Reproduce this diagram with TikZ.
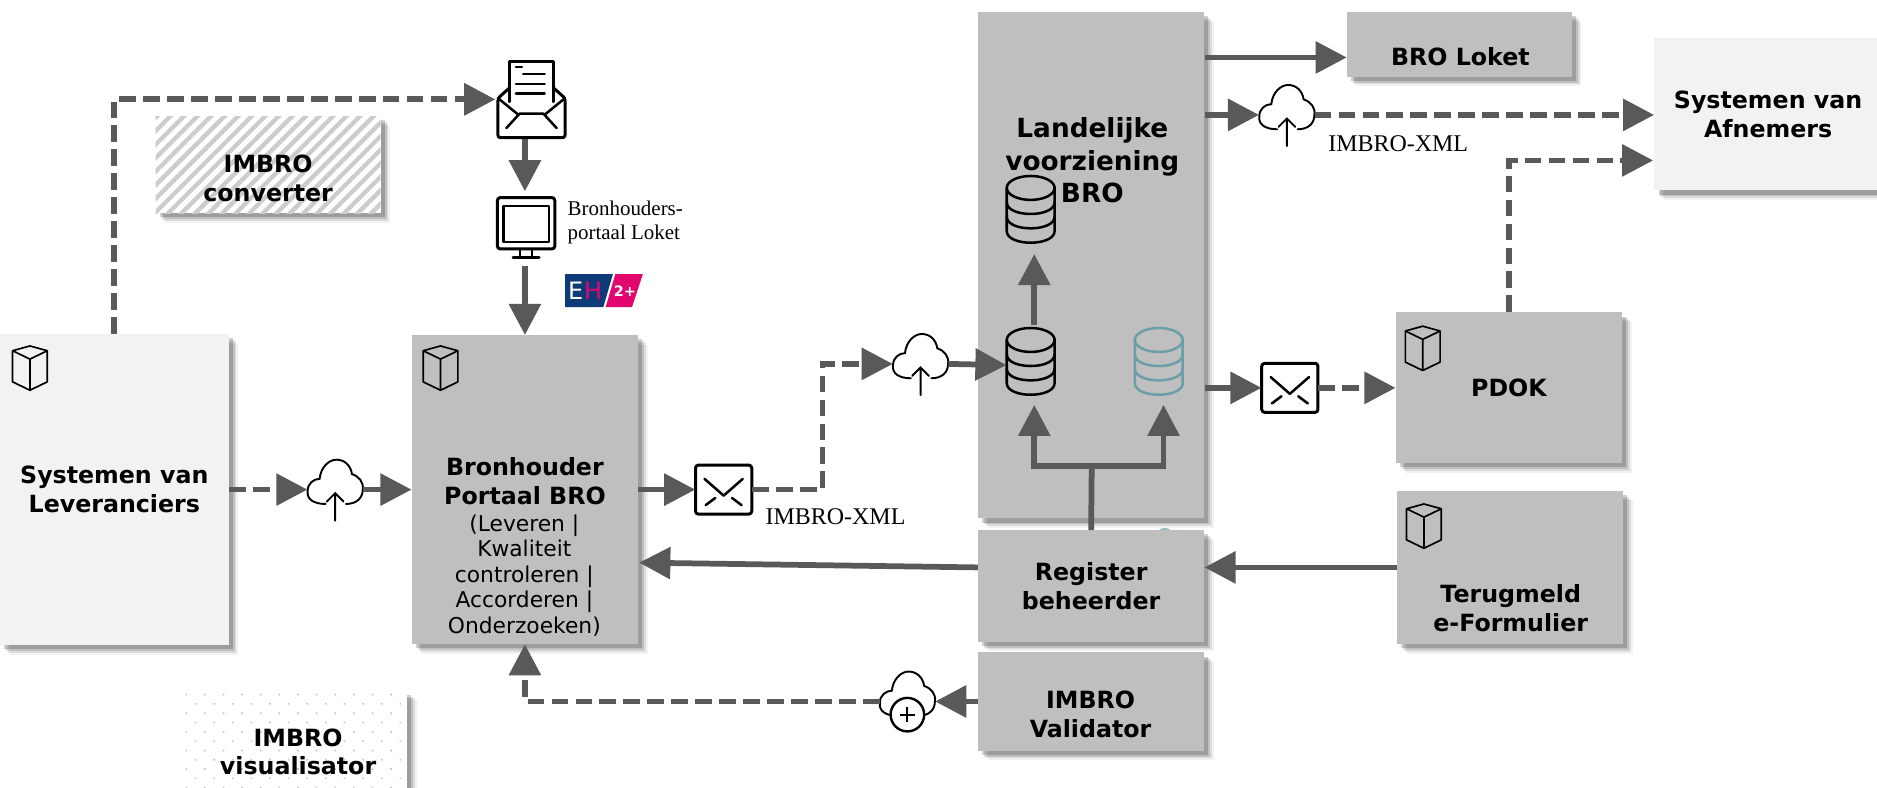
\documentclass[tikz,border=0pt]{standalone}
\usepackage{fontspec}
\setmainfont{Liberation Serif}
\setsansfont{DejaVu Sans}
\usetikzlibrary{arrows.meta}
\usetikzlibrary{patterns.meta}
\usetikzlibrary{shadows}
\definecolor{boxgrey}{HTML}{BFBFBF}
\definecolor{boxlight}{HTML}{F2F2F2}
\definecolor{flowgrey}{HTML}{595959}
\definecolor{dbteal}{HTML}{6A9EA8}
\definecolor{ehnavy}{HTML}{0F3A78}
\definecolor{ehpink}{HTML}{E2066F}
\tikzset{
	softshadow/.style={drop shadow={shadow xshift=8pt,shadow yshift=-8pt,fill=black,opacity=.05},
		drop shadow={shadow xshift=6.5pt,shadow yshift=-6.5pt,fill=black,opacity=.09},
		drop shadow={shadow xshift=5pt,shadow yshift=-5pt,fill=black,opacity=.13},
		drop shadow={shadow xshift=3.5pt,shadow yshift=-3.5pt,fill=black,opacity=.18}},
	box/.style={rectangle,inner sep=0pt,softshadow,fill=boxgrey,align=center,font=\sffamily\bfseries\fontsize{19.8}{24}\selectfont},
	lightbox/.style={box,fill=boxlight},
	boxtext/.style={inner sep=0pt,align=center,font=\sffamily\bfseries\fontsize{19.8}{24}\selectfont},
	plaintext/.style={inner sep=0pt,align=left,font=\fontsize{17.5}{20}\selectfont},
	xmltext/.style={inner sep=0pt,font=\fontsize{20}{22}\selectfont},
	iconnode/.style={rectangle,inner sep=0pt,minimum width=46pt,minimum height=46pt},
	flow/.style={draw=flowgrey,line width=4.8pt,-{Triangle[length=26pt,width=26pt]}},
	dashflow/.style={flow,dash pattern=on 14pt off 6pt},
	flowline/.style={draw=flowgrey,line width=4.8pt},
	icon/.style={line width=2.1pt,line join=round,line cap=round},
	pics/cubeicon/.style={code={
		\draw[line width=1.4pt,line join=round] (0,-18.5) -- (14.5,-14.5) -- (14.5,11.5) -- (0,18.5) -- (-14.5,11.5) -- (-14.5,-14.5) -- cycle;
		\draw[line width=1.4pt,line join=round] (-14.5,-14.5) -- (0,-7.5) -- (14.5,-14.5) (0,-7.5) -- (0,18.5);
	}},
	pics/cloudshape/.style={code={
		\draw[line width=1.6pt,line cap=round] (-8,12) .. controls (-18,12) and (-24,8) .. (-23,1)
			.. controls (-23,-5) and (-18,-9) .. (-13,-9) .. controls (-12,-19) and (-5,-25) .. (1,-25)
			.. controls (8,-25) and (13,-20) .. (14,-13) .. controls (20,-11) and (24,-6) .. (23,0)
			.. controls (23,7) and (18,12) .. (9,12);
	}},
	pics/cloudup/.style={code={
		\pic {cloudshape};
		\draw[line width=1.6pt,line cap=round] (0,26) -- (0,3) (-7,10) -- (0,3) -- (7,10);
	}},
	pics/cloudplus/.style={code={
		\pic {cloudshape};
		\draw[line width=2pt,fill=white] (0,11) circle [radius=14pt];
		\draw[line width=1.6pt] (-6,11) -- (6,11) (0,5) -- (0,17);
	}},
	pics/mailicon/.style={code={
		\draw[icon,line width=2.5pt,fill=white,rounded corners=2.5pt] (-23.5,-20.5) rectangle (23.5,20.5);
		\draw[icon] (-16,-9) -- (0,5) -- (16,-9) (-15,13) -- (-7,7) (15,13) -- (7,7);
	}},
	pics/docmail/.style={code={
		\draw[icon,line width=2.5pt,rounded corners=2pt] (-19,-9) -- (-28,-1) -- (-28,32) -- (28,32) -- (28,-1) -- (19,-9);
		\draw[icon,line width=2.5pt] (-18,2) -- (-18,-32) -- (18,-32) -- (18,2);
		\draw[icon] (-28,-1) -- (-12,12) (28,-1) -- (12,12) (-21,24) -- (-10,12) -- (10,12) -- (21,24);
		\draw[icon] (-13,-27) -- (-8,-27) (-7,-21) -- (11,-21) (-13,-13) -- (11,-13) (-13,-5) -- (11,-5);
	}},
	pics/monitoricon/.style={code={
		\draw[icon,line width=2.5pt,rounded corners=2.5pt] (-23,-26) rectangle (25,17);
		\draw[icon] (-18,-19) rectangle (20,11);
		\draw[icon] (-4,17) -- (-4,23) (6,17) -- (6,23) (-10,24) -- (12,24);
	}},
	pics/dbicon/.style={code={
		\draw[icon,#1] (0,-18) ellipse [x radius=20pt,y radius=10pt];
		\draw[icon,#1] (-20,-18) -- (-20,18) .. controls (-20,31) and (20,31) .. (20,18) -- (20,-18);
		\draw[icon,#1] (-20,-6) .. controls (-20,7) and (20,7) .. (20,-6);
		\draw[icon,#1] (-20,6) .. controls (-20,19) and (20,19) .. (20,6);
	}}
}
\begin{document}
\begin{tikzpicture}[x=1pt,y=-1pt]
	\useasboundingbox (0,0) rectangle (1568,658);

	% teal rim behind the register box
	\fill[dbteal!70] (973,449) ellipse [x radius=8pt,y radius=8pt];

	% boxes
	\node[lightbox,minimum width=191pt,minimum height=260pt] (leveranciers) at (95.5,409) {Systemen van\\Leveranciers};
	\node[box,minimum width=189pt,minimum height=258pt] (bronhouder) at (438.5,409) {};
	\node[box,minimum width=189pt,minimum height=423pt] (landelijk) at (911.5,221.5) {};
	\node[box,minimum width=188pt,minimum height=54pt] (broLoket) at (1219,37) {};
	\node[lightbox,minimum width=190pt,minimum height=127pt] (afnemers) at (1477,95.5) {Systemen van\\Afnemers};
	\node[box,minimum width=189pt,minimum height=126pt] (pdok) at (1260.5,324) {PDOK};
	\node[box,minimum width=189pt,minimum height=128pt] (terugmeld) at (1261.5,474) {};
	\node[box,minimum width=189pt,minimum height=93pt] (register) at (911.5,489.5) {Register\\beheerder};
	\node[box,minimum width=189pt,minimum height=82pt] (validator) at (911.5,586) {};
	\node[box,fill=white,minimum width=188pt,minimum height=81pt,postaction={pattern={Lines[angle=45,distance=8pt,line width=3.6pt]},pattern color=black!20}] (converter) at (224,137.5) {};
	\node[box,fill=white,minimum width=185pt,minimum height=100pt,postaction={pattern={Dots[angle=45,distance=11pt,radius=1pt]},pattern color=black!22}] (visualisator) at (247.5,627) {};

	% box texts that sit off centre
	\node[boxtext] (bronhouderTxt) at (438.5,402) {Bronhouder\\Portaal BRO};
	\node[boxtext,font=\sffamily\fontsize{18.2}{21.3}\selectfont] (bronhouderSub) at (438,480.5) {(Leveren |\\Kwaliteit\\controleren |\\Accorderen |\\Onderzoeken)};
	\node[boxtext,font=\sffamily\bfseries\fontsize{22}{27}\selectfont] (landelijkTxt) at (912.5,134) {Landelijke\\voorziening\\BRO};
	\node[boxtext] (broLoketTxt) at (1220,47) {BRO Loket};
	\node[boxtext] (terugmeldTxt) at (1262,508) {Terugmeld\\e-Formulier};
	\node[boxtext] (validatorTxt) at (911,597) {IMBRO\\Validator};
	\node[boxtext] (converterTxt) at (224,149) {IMBRO\\converter};
	\node[boxtext] (visualisatorTxt) at (249,628) {IMBRO\\visualisator};

	% cube icons
	\foreach \x/\y in {25/307.5,368/307.5,1188.5/291,1189.5/439.5}
		{\pic at (\x,\y) {cubeicon};}

	% icon nodes
	\node[iconnode,minimum width=60pt,minimum height=66pt] (docMail) at (444,83) {};
	\node[iconnode,minimum width=48pt,minimum height=62pt] (monitor) at (438.5,191) {};
	\node[iconnode,minimum height=48pt] (cloudLev) at (280,409) {};
	\node[iconnode,minimum width=47pt] (mailBron) at (604.5,409) {};
	\node[iconnode] (cloudBro) at (769,304) {};
	\node[iconnode,minimum height=68pt] (dbTop) at (864,178) {};
	\node[iconnode,minimum height=66pt] (dbLow) at (864,305) {};
	\node[iconnode,minimum height=66pt] (dbTeal) at (972,305) {};
	\node[iconnode] (cloudAfn) at (1075,96) {};
	\node[iconnode,minimum width=47pt] (mailPdok) at (1077.5,324) {};
	\node[iconnode] (cloudPlus) at (758,586) {};

	\pic at (docMail) {docmail};
	\pic at (monitor) {monitoricon};
	\pic at (cloudLev) {cloudup};
	\pic at (mailBron) {mailicon};
	\pic at (cloudBro) {cloudup};
	\pic at (861,175) {dbicon=black};
	\pic at (861,302) {dbicon=black};
	\pic at (968,302) {dbicon=dbteal};
	\pic at (cloudAfn) {cloudup};
	\pic at (mailPdok) {mailicon};
	\pic at (cloudPlus) {cloudplus};

	% free ends and bends
	\coordinate (lokIn) at (1125,48);
	\coordinate (afnIn) at (1381,134);
	\coordinate (bendBro) at (687,409);
	\coordinate (branch) at (912,389);
	\coordinate (bronIn) at (534,470);

	% connectors
	\draw[dashflow] (leveranciers.north) |- (docMail.west);
	\draw[flow] (docMail.south -| monitor.north) -- (monitor.north);
	\draw[flow] (monitor.south) -- (bronhouder.north);
	\draw[dashflow] (leveranciers.east) -- (cloudLev.west);
	\draw[flow] (cloudLev.east) -- (bronhouder.west);
	\draw[flow] (bronhouder.east) -- (mailBron.west);
	\draw[dashflow] (mailBron.east) -- (bendBro) |- (cloudBro.west);
	\draw[flow] (cloudBro.east) -- (dbLow.west);
	\draw[flow] (dbLow.north) -- (dbTop.south);
	\draw[flowline] (register.north) -- (branch);
	\draw[flow] (branch) -| (dbLow.south);
	\draw[flow] (branch) -| (dbTeal.south);
	\draw[flow] (lokIn -| landelijk.east) -- (lokIn);
	\draw[flow] (cloudAfn.west -| landelijk.east) -- (cloudAfn.west);
	\draw[dashflow] (cloudAfn.east) -- (cloudAfn.east -| afnemers.west);
	\draw[flow] (mailPdok.west -| landelijk.east) -- (mailPdok.west);
	\draw[dashflow] (mailPdok.east) -- (pdok.west);
	\draw[dashflow] (pdok.north) |- (afnIn);
	\draw[flow] (terugmeld.west) -- (terugmeld.west -| register.east);
	\draw[flow] (terugmeld.west -| register.west) -- (bronIn);
	\draw[flow] (validator.west) -- (cloudPlus.east);
	\draw[dashflow] (cloudPlus.west) -| (bronhouder.south);

	% labels
	\node[xmltext] (xmlBron) at (698,432) {IMBRO-XML};
	\node[xmltext] (xmlAfn) at (1168,120) {IMBRO-XML};
	\node[plaintext,anchor=west] (portaalTxt) at (474,186) {Bronhouders-\\portaal Loket};

	% keurmerk
	\fill[ehnavy] (472,229) -- (512,229) -- (504,256.5) -- (472,256.5) -- cycle;
	\fill[ehpink] (514,229) -- (537,229) -- (528,256.5) -- (506,256.5) -- cycle;
	\node[inner sep=0pt,text=white,font=\sffamily\fontsize{20}{20}\selectfont] (ehE) at (481,243) {E};
	\node[inner sep=0pt,text=ehpink,font=\sffamily\fontsize{20}{20}\selectfont] (ehH) at (495.5,243) {H};
	\node[inner sep=0pt,text=white,font=\sffamily\bfseries\fontsize{12}{12}\selectfont] (ehPlus) at (522,243) {2+};
\end{tikzpicture}
\end{document}
